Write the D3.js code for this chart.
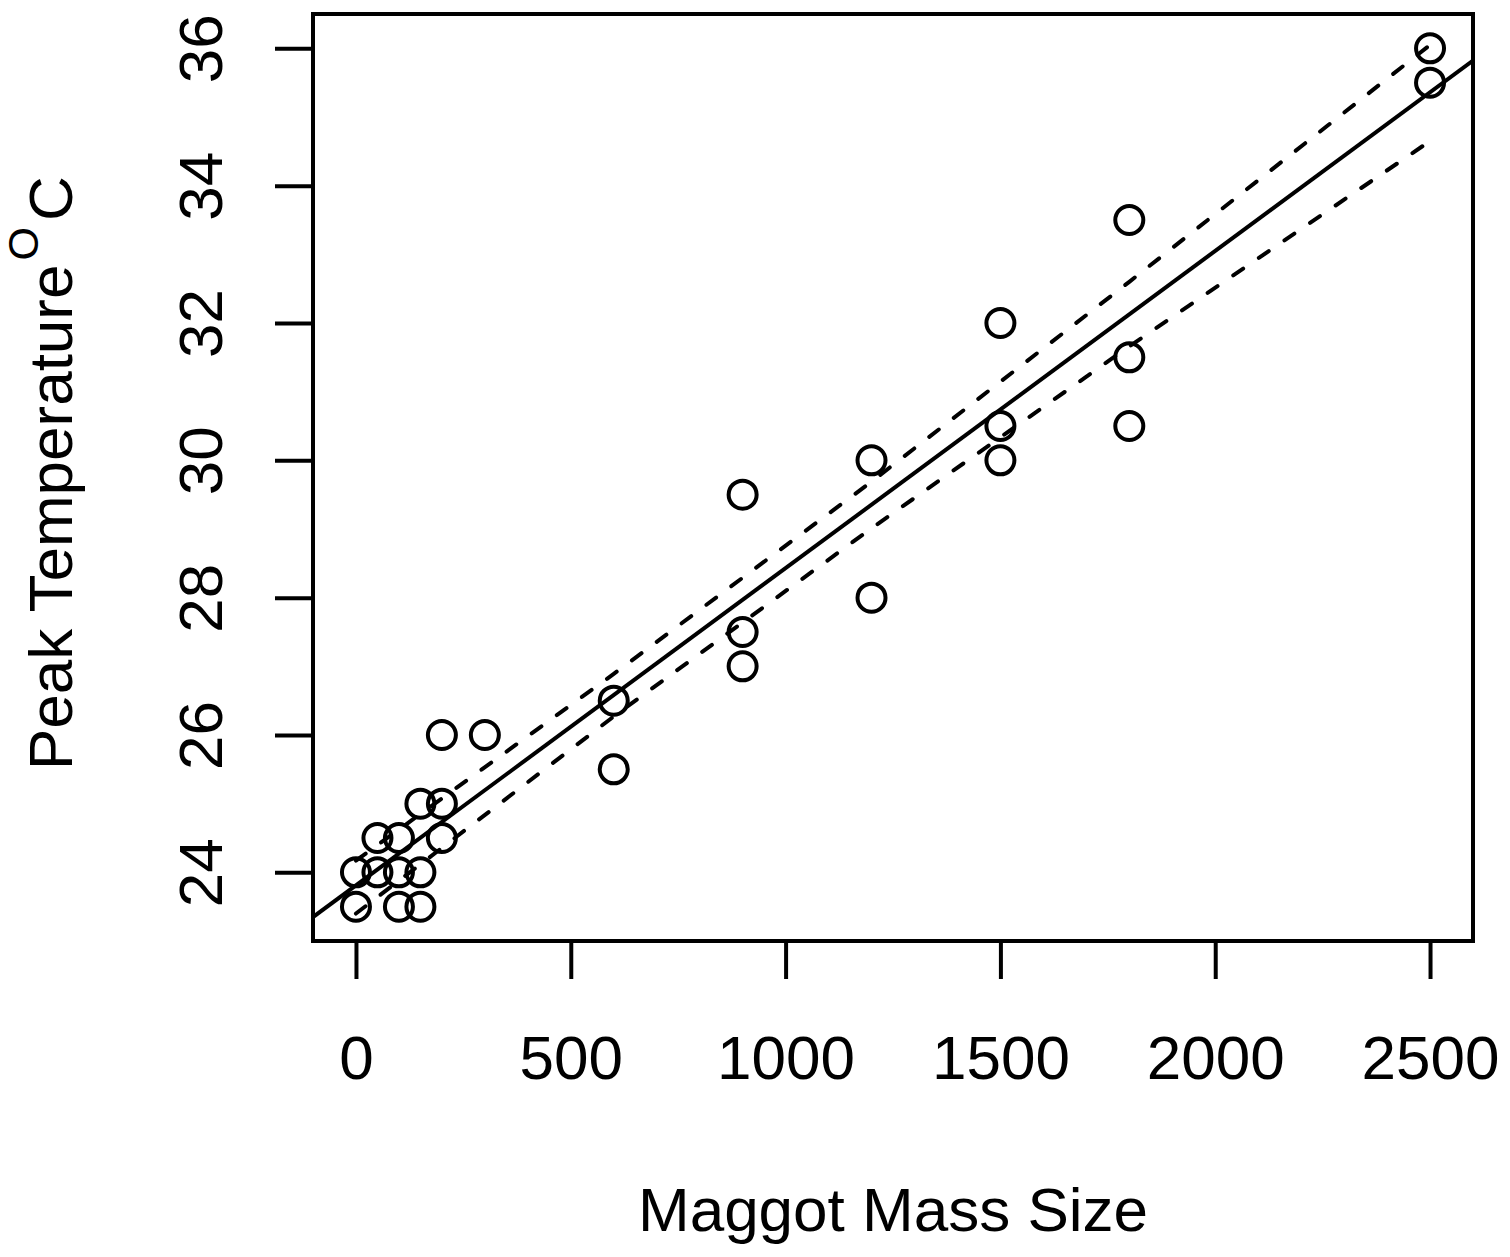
<!DOCTYPE html>
<html>
<head>
<meta charset="utf-8">
<title>Peak temperature vs maggot mass size</title>
<script src="https://cdn.jsdelivr.net/npm/d3@7"></script>
<style>
  html, body { margin: 0; padding: 0; background: #fff; }
  svg { display: block; }
  text { font-family: "Liberation Sans", Arial, Helvetica, sans-serif; fill: #000; }
</style>
</head>
<body>
<div id="chart"></div>
<script>
// Observations (mass size, peak temperature)
const massSize = [0, 0, 50, 50, 100, 100, 100, 150, 150, 150, 200, 200, 200, 300,
  600, 600, 900, 900, 900, 1200, 1200, 1500, 1500, 1500, 1800, 1800, 1800, 2500, 2500];
const peakTemp = [24, 23.5, 24.5, 24, 24.5, 24, 23.5, 25, 24, 23.5, 26, 25, 24.5, 26,
  26.5, 25.5, 29.5, 27.5, 27, 30, 28, 32, 30.5, 30, 33.5, 31.5, 30.5, 36, 35.5];

// Fitted line
const fitIntercept = 23.81;
const fitSlope = 0.00462;

// Dashed band, read at a few mass sizes
const bandX = [0, 600, 1200, 1800, 2500];
const bandUpper = [24.17, 26.89, 29.69, 32.60, 36.05];
const bandLower = [23.40, 26.27, 29.01, 31.66, 34.65];

// Axis ticks
const xTicks = [0, 500, 1000, 1500, 2000, 2500];
const yTicks = [24, 26, 28, 30, 32, 34, 36];

const config = {
  width: 1510,
  height: 1257,
  plot: { left: 313, right: 1473, top: 14, bottom: 941 },
  fontSize: 62,
  tickLength: 38,
  lineWidth: 4,
  pointRadius: 14
};

const svg = d3.select('#chart')
  .append('svg')
  .attr('width', config.width)
  .attr('height', config.height);

const x = d3.scaleLinear()
  .domain([-100, 2600])
  .range([config.plot.left, config.plot.right]);

const y = d3.scaleLinear()
  .domain([23, 36.5])
  .range([config.plot.bottom, config.plot.top]);

const plotW = config.plot.right - config.plot.left;
const plotH = config.plot.bottom - config.plot.top;

svg.append('defs').append('clipPath')
  .attr('id', 'plot-clip')
  .append('rect')
  .attr('x', config.plot.left)
  .attr('y', config.plot.top)
  .attr('width', plotW)
  .attr('height', plotH);

// Points
svg.append('g')
  .selectAll('circle')
  .data(massSize.map((m, i) => ({ m, t: peakTemp[i] })))
  .join('circle')
  .attr('cx', d => x(d.m))
  .attr('cy', d => y(d.t))
  .attr('r', config.pointRadius)
  .attr('fill', 'none')
  .attr('stroke', '#000')
  .attr('stroke-width', config.lineWidth);

// Regression line across the whole plot region
const xDom = x.domain();
svg.append('line')
  .attr('clip-path', 'url(#plot-clip)')
  .attr('x1', x(xDom[0]))
  .attr('y1', y(fitIntercept + fitSlope * xDom[0]))
  .attr('x2', x(xDom[1]))
  .attr('y2', y(fitIntercept + fitSlope * xDom[1]))
  .attr('stroke', '#000')
  .attr('stroke-width', config.lineWidth);

// Dashed band lines
const bandLine = d3.line()
  .x(d => x(d[0]))
  .y(d => y(d[1]));

[bandUpper, bandLower].forEach(vals => {
  svg.append('path')
    .datum(bandX.map((bx, i) => [bx, vals[i]]))
    .attr('d', bandLine)
    .attr('fill', 'none')
    .attr('stroke', '#000')
    .attr('stroke-width', config.lineWidth)
    .attr('stroke-linecap', 'round')
    .attr('stroke-dasharray', '12,19');
});

// Box
svg.append('rect')
  .attr('x', config.plot.left)
  .attr('y', config.plot.top)
  .attr('width', plotW)
  .attr('height', plotH)
  .attr('fill', 'none')
  .attr('stroke', '#000')
  .attr('stroke-width', config.lineWidth);

// X axis
const xAxis = d3.axisBottom(x)
  .tickValues(xTicks)
  .tickSize(config.tickLength)
  .tickPadding(0)
  .tickFormat(d3.format('d'));

const gx = svg.append('g')
  .attr('transform', `translate(0, ${config.plot.bottom})`)
  .call(xAxis);
gx.select('.domain').remove();
gx.selectAll('.tick line')
  .attr('stroke', '#000')
  .attr('stroke-width', config.lineWidth);
gx.selectAll('.tick text')
  .attr('y', 138)
  .attr('dy', null)
  .attr('font-size', config.fontSize)
  .attr('font-family', null)
  .attr('fill', '#000');

// Y axis, labels parallel to the axis
const yAxis = d3.axisLeft(y)
  .tickValues(yTicks)
  .tickSize(config.tickLength)
  .tickFormat(d3.format('d'));

const gy = svg.append('g')
  .attr('transform', `translate(${config.plot.left}, 0)`)
  .call(yAxis);
gy.select('.domain').remove();
gy.selectAll('.tick line')
  .attr('stroke', '#000')
  .attr('stroke-width', config.lineWidth);
gy.selectAll('.tick text')
  .attr('x', null)
  .attr('dy', null)
  .attr('transform', 'translate(-91, 0) rotate(-90)')
  .attr('text-anchor', 'middle')
  .attr('font-size', config.fontSize)
  .attr('font-family', null)
  .attr('fill', '#000');

// Axis titles
svg.append('text')
  .attr('x', (config.plot.left + config.plot.right) / 2)
  .attr('y', 1231)
  .attr('text-anchor', 'middle')
  .attr('font-size', config.fontSize)
  .text('Maggot Mass Size');

const ylab = svg.append('text')
  .attr('transform', 'translate(72, 770) rotate(-90)')
  .attr('text-anchor', 'start')
  .attr('font-size', config.fontSize);
ylab.append('tspan').text('Peak Temperature');
ylab.append('tspan')
  .attr('font-size', 43)
  .attr('dx', 4)
  .attr('dy', -34)
  .text('O');
ylab.append('tspan')
  .attr('dx', 6)
  .attr('dy', 34)
  .text('C');
</script>
</body>
</html>
